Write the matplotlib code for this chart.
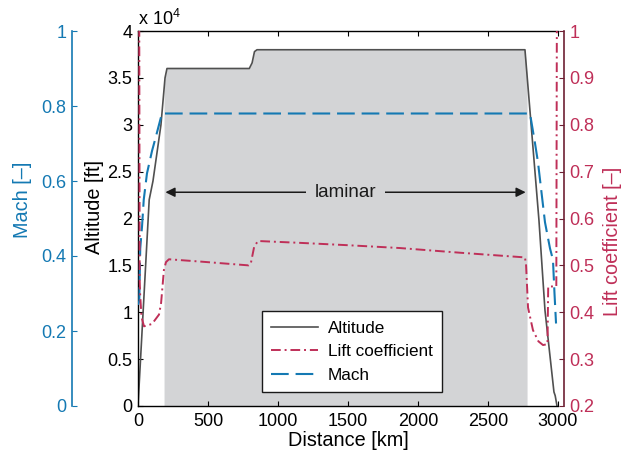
import numpy as np
import matplotlib
matplotlib.use("Agg")
import matplotlib.pyplot as plt
from matplotlib.ticker import MultipleLocator, FuncFormatter

plt.rcParams['font.family'] = ['Liberation Sans', 'DejaVu Sans']
plt.rcParams['mathtext.fontset'] = 'custom'
plt.rcParams['mathtext.rm'] = 'Liberation Sans'

# Flight profile along the route
dist_alt = [0, 40, 80, 107, 164, 193, 207, 795, 815, 832, 850,
            2764, 2864, 2907, 2971, 2980, 2993]
altitude_ft = [0, 11000, 22000, 24000, 30000, 35000, 36000, 36000, 36600, 37800, 38000,
               38000, 19800, 10200, 1500, 1100, 0]

dist_mach = [0, 9, 16, 29, 41, 64, 100, 129, 171, 2800, 2836, 2857, 2907,
             2943, 2964, 2975, 2986]
mach = [0.27, 0.28, 0.42, 0.48, 0.55, 0.62, 0.68, 0.72, 0.78, 0.78, 0.70, 0.65, 0.49,
        0.42, 0.39, 0.30, 0.22]

dist_cl = [0, 9, 12, 15, 25, 43, 100, 150, 165, 185, 200, 221, 450, 790, 805, 830, 857,
           1160, 1500, 1870, 2300, 2764, 2772, 2786, 2821, 2860, 2893, 2925, 2930,
           2950, 2988, 2992]
lift_coeff = [1.05, 1.0, 0.47, 0.44, 0.39, 0.37, 0.375, 0.395, 0.42, 0.49, 0.507, 0.513,
              0.508, 0.500, 0.503, 0.540, 0.552, 0.548, 0.543, 0.537, 0.527, 0.517, 0.50,
              0.41, 0.362, 0.338, 0.330, 0.332, 0.455, 0.455, 0.455, 1.05]

# Extent of laminar flow
laminar_start, laminar_end = 186, 2779
laminar_label_alt = 22800

c_alt = '#505050'
c_mach = '#1479b3'
c_cl = '#bf2f58'
c_cl_spine = '#6e2034'
c_fill = '#d3d4d6'

fig = plt.figure(figsize=(6.34, 4.57), dpi=100)
ax = fig.add_axes([138 / 634, 51 / 457, 420 / 634, 375 / 457])

# Shaded laminar region under the altitude profile
xs = np.linspace(laminar_start, laminar_end, 800)
ax.fill_between(xs, 0, np.interp(xs, dist_alt, altitude_ft), color=c_fill, lw=0, zorder=0)
h_alt, = ax.plot(dist_alt, altitude_ft, color=c_alt, lw=1.2, label='Altitude', zorder=2)

ax.annotate('', xy=(laminar_start, laminar_label_alt), xytext=(laminar_end, laminar_label_alt),
            arrowprops=dict(arrowstyle='<|-|>', color='#1a1a1a', lw=1.1,
                            mutation_scale=14, shrinkA=1, shrinkB=1), zorder=3)
ax.text((laminar_start + laminar_end) / 2, laminar_label_alt, 'laminar', fontsize=13.5,
        ha='center', va='center', color='#1a1a1a', zorder=4,
        bbox=dict(boxstyle='square,pad=0.45', fc=c_fill, ec='none'))

ax.set_xlim(0, 3000)
ax.set_ylim(0, 40000)
ax.xaxis.set_major_locator(MultipleLocator(500))
ax.yaxis.set_major_locator(MultipleLocator(5000))
ax.yaxis.set_major_formatter(FuncFormatter(lambda v, _: f'{v / 1e4:g}'))
ax.spines['right'].set_visible(False)
for s in ('left', 'bottom', 'top'):
    ax.spines[s].set_linewidth(1.0)
ax.tick_params(direction='in', length=3.5, width=0.8, labelsize=13, pad=4, top=True,
               right=False)
ax.tick_params(axis='x', pad=5)
ax.set_xlabel('Distance [km]', fontsize=14.3, labelpad=1)
ax.set_ylabel('Altitude [ft]', fontsize=14.3)
ax.yaxis.set_label_coords(-0.081, 0.53)
fig.text(138 / 634, 1 - 25 / 457, r'x 10$^{\mathregular{4}}$', fontsize=13, va='baseline')

# Mach axis on the far left
ax_m = ax.twinx()
ax_m.set_ylim(0, 1)
for s in ('right', 'top', 'bottom'):
    ax_m.spines[s].set_visible(False)
ax_m.spines['left'].set_visible(True)
ax_m.spines['left'].set_position(('outward', 47.5))
ax_m.spines['left'].set_color(c_mach)
ax_m.spines['left'].set_linewidth(1.2)
ax_m.yaxis.set_ticks_position('left')
ax_m.yaxis.set_label_position('left')
ax_m.yaxis.set_major_locator(MultipleLocator(0.2))
ax_m.yaxis.set_major_formatter(FuncFormatter(lambda v, _: f'{v:g}'))
ax_m.tick_params(axis='y', direction='in', length=3.5, width=0.8, labelsize=13, pad=4,
                 colors=c_mach)
ax_m.set_ylabel('Mach [–]', fontsize=14.3, color=c_mach)
ax_m.yaxis.set_label_coords(-0.253, 0.55)
h_mach, = ax_m.plot(dist_mach, mach, color=c_mach, lw=1.5, dashes=(8.5, 3.3), label='Mach')

# Lift coefficient axis on the right
ax_cl = ax.twinx()
ax_cl.set_ylim(0.2, 1.0)
for s in ('left', 'top', 'bottom'):
    ax_cl.spines[s].set_visible(False)
ax_cl.spines['right'].set_position(('outward', 4.3))
ax_cl.spines['right'].set_color(c_cl_spine)
ax_cl.spines['right'].set_linewidth(1.2)
ax_cl.yaxis.set_major_locator(MultipleLocator(0.1))
ax_cl.yaxis.set_major_formatter(FuncFormatter(lambda v, _: f'{v:g}'))
ax_cl.tick_params(axis='y', direction='in', length=3.5, width=0.8, labelsize=13, pad=4,
                  colors=c_cl_spine, labelcolor=c_cl)
ax_cl.set_ylabel('Lift coefficient [–]', fontsize=14.3, color=c_cl)
ax_cl.yaxis.set_label_coords(1.107, 0.44)
h_cl, = ax_cl.plot(dist_cl, lift_coeff, color=c_cl, lw=1.4, dashes=(5, 2, 1, 2),
                   label='Lift coefficient')

leg = ax_cl.legend(handles=[h_alt, h_cl, h_mach], loc='lower left',
                   bbox_to_anchor=(0.295, 0.037), fontsize=12.3, handlelength=2.75,
                   fancybox=False, framealpha=1, edgecolor='#1a1a1a',
                   borderpad=0.55, labelspacing=0.5, handletextpad=0.55, borderaxespad=0)
leg.get_frame().set_linewidth(1.0)

fig.savefig('out.png', dpi=100)
